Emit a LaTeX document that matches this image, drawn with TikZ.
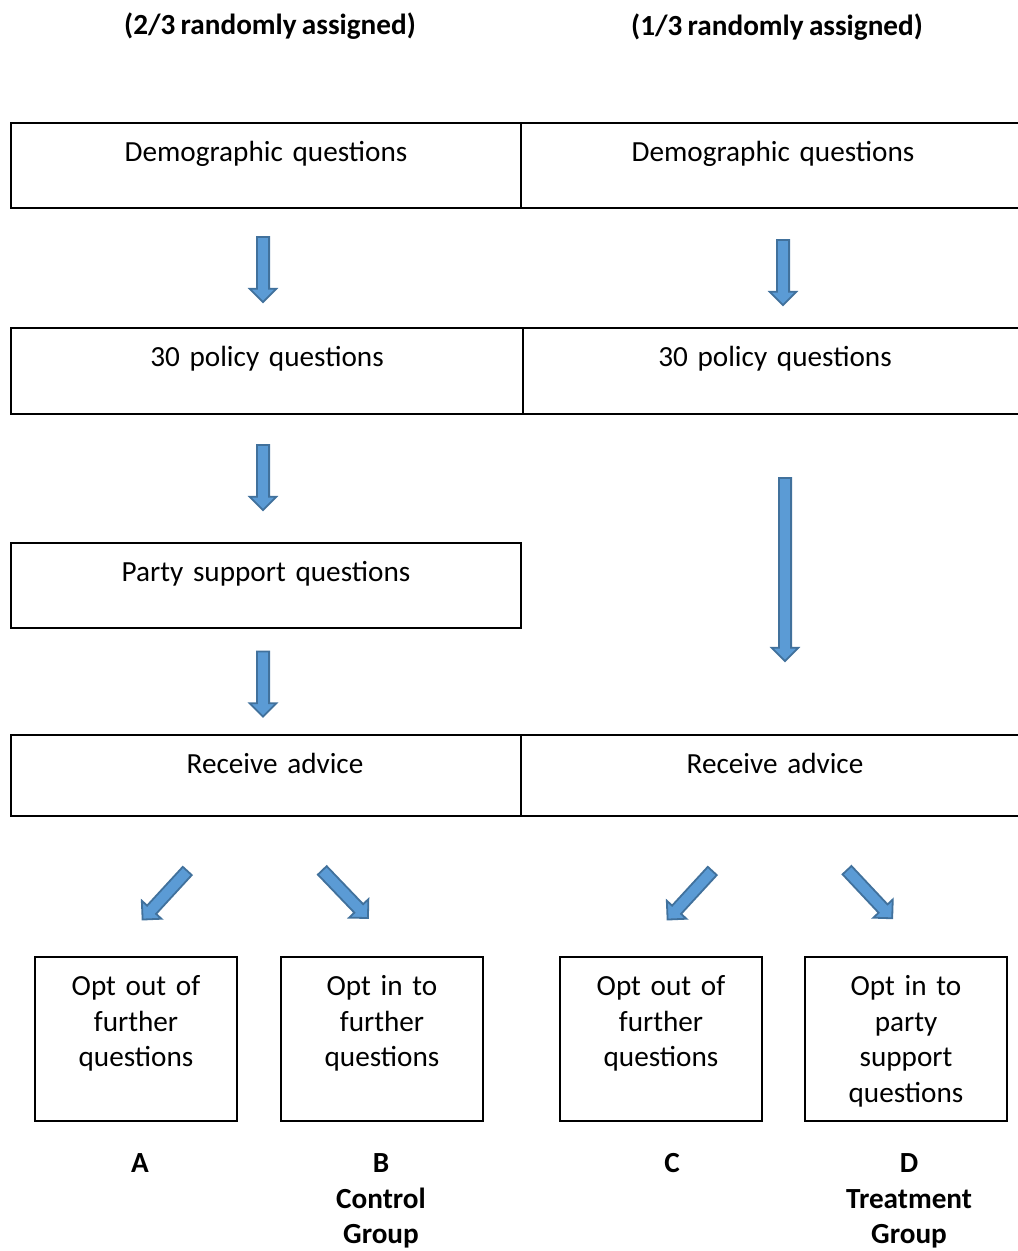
\documentclass[tikz,border=0pt]{standalone}
\usepackage{fontspec}
\setmainfont[WordSpace=0.8]{Carlito}
\usetikzlibrary{shapes.arrows,positioning}
\definecolor{arrowfill}{RGB}{91,155,213}
\definecolor{arrowedge}{RGB}{65,113,156}

\begin{document}
\fontsize{14.6}{17.8}\selectfont
\begin{tikzpicture}[
        x=0.5pt, y=-0.5pt,
        box/.style={draw, line width=0.6pt, inner sep=0pt, align=center, text height=19.2pt},
        row/.style={box, text width=255pt, text depth=23.3pt},
        choice/.style={box, text width=101pt, text depth=62.8pt},
        title/.style={font=\bfseries},
        tag/.style={font=\bfseries, align=center, anchor=north, inner sep=0pt, text width=100pt, text height=10pt},
        flow/.style={single arrow, draw=arrowedge, fill=arrowfill, line width=0.9pt, inner xsep=0pt, inner ysep=2.6pt, single arrow head extend=3.6pt, single arrow head indent=0pt, minimum height=32.5pt}
    ]
        \useasboundingbox (0,0) rectangle (1017,1251);

        % Group headings
        \node[title] (titleL) at (270,26) {(2/3 randomly assigned)};
        \node[title] (titleR) at (777,27) {(1/3 randomly assigned)};

        % Left column
        \node[row] (demoL) at (266,165.5) {Demographic questions};
        \node[row, text width=256pt, text depth=23.8pt] (policyL) at (267,371) {30 policy questions};
        \node[row] (partyL) at (266,585.5) {Party support questions};
        \node[row, text depth=21.3pt] (adviceL) at (266,775.5) {\hspace*{9pt}Receive advice};

        % Right column
        \node[row, text width=252pt] (demoR) at (773,165.5) {Demographic questions};
        \node[row, text width=252pt, text depth=23.8pt] (policyR) at (775,371) {30 policy questions};
        \node[row, text width=252pt, text depth=21.3pt] (adviceR) at (773,775.5) {\hspace*{2pt}Receive advice};

        % Block arrows
        \node[flow, rotate=-90] (downL1) at (263,266.5) {};
        \node[flow, rotate=-90] (downL2) at (263,474.5) {};
        \node[flow, rotate=-90] (downL3) at (263,681) {};
        \node[flow, rotate=-90] (downR1) at (783,269.5) {};
        \node[flow, rotate=-90, minimum height=91.5pt] (downR2) at (785,566.5) {};

        \node[flow, rotate=227.4, minimum height=33pt] (splitA) at (167,893) {};
        \node[flow, rotate=-46.2, minimum height=33pt] (splitB) at (343,892) {};
        \node[flow, rotate=227.4, minimum height=33pt] (splitC) at (692,893) {};
        \node[flow, rotate=-46.8, minimum height=33pt] (splitD) at (867.5,892) {};

        % Outcomes
        \node[choice] (optA) at (136,1039) {Opt out of\\further\\questions};
        \node[choice] (optB) at (382,1039) {Opt in to\\further\\questions};
        \node[choice] (optC) at (661,1039) {Opt out of\\further\\questions};
        \node[choice] (optD) at (906,1039) {Opt in to\\party\\support\\questions};

        \node[tag] (grpA) at (140,1152) {A};
        \node[tag] (grpB) at (381,1152) {B\\Control\\Group};
        \node[tag] (grpC) at (672,1152) {C};
        \node[tag] (grpD) at (909,1152) {D\\Treatment\\Group};
    \end{tikzpicture}
\end{document}
